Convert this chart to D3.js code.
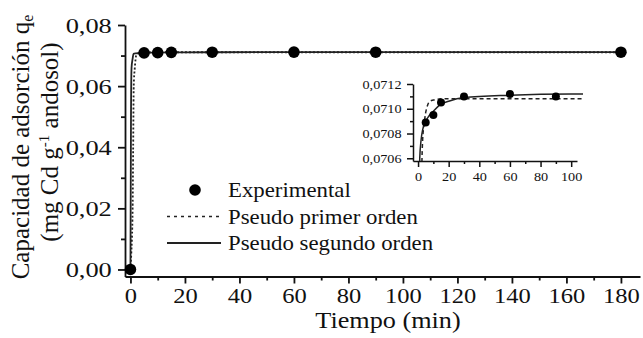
<!DOCTYPE html>
<html>
<head>
<meta charset="utf-8">
<script src="https://cdn.jsdelivr.net/npm/d3@7"></script>
<style>
    body { margin: 0; background: #fff; }
    text { font-family: "Liberation Serif", "Times New Roman", serif; fill: #111; }
</style>
</head>
<body>
<div id="chart"></div>
<script>
// experimental points
const tExp = [0, 5, 10, 15, 30, 60, 90, 180];
const qExp = [0, 0.07089, 0.07095, 0.07105, 0.0711, 0.07112, 0.0711, 0.0711];

// fitted curves
const tPrimer = [0, 0.3, 0.8, 1, 1.2, 1.6, 2.2, 3, 4, 5, 6, 7.6, 10, 15, 60, 180];
const qPrimer = [0, 0.005, 0.02, 0.04, 0.06, 0.066, 0.0703, 0.07075, 0.07088, 0.07097, 0.07102, 0.07106, 0.07107, 0.07108, 0.07108, 0.07108];
const tSegundo = [0, 0.2, 0.4, 0.8, 1.1, 2, 3, 5, 7, 10, 14, 20, 30, 60, 100, 180];
const qSegundo = [0, 0.05, 0.066, 0.069, 0.0706, 0.07075, 0.07083, 0.0709, 0.07094, 0.07098, 0.07103, 0.07106, 0.07109, 0.07111, 0.07112, 0.07112];

// ticks
const xTicks = [0, 20, 40, 60, 80, 100, 120, 140, 160, 180];
const xTickLabels = ["0", "20", "40", "60", "80", "100", "120", "140", "160", "180"];
const xMinor = [10, 30, 50, 70, 90, 110, 130, 150, 170];
const yTicks = [0, 0.02, 0.04, 0.06, 0.08];
const yTickLabels = ["0,00", "0,02", "0,04", "0,06", "0,08"];
const yMinor = [0.01, 0.03, 0.05, 0.07];
const insetXTicks = [0, 20, 40, 60, 80, 100];
const insetXTickLabels = ["0", "20", "40", "60", "80", "100"];
const insetXMinor = [10, 30, 50, 70, 90];
const insetYTicks = [0.0706, 0.0708, 0.0710, 0.0712];
const insetYTickLabels = ["0,0706", "0,0708", "0,0710", "0,0712"];
const insetYMinor = [0.0707, 0.0709, 0.0711];

const legendNames = ["Experimental", "Pseudo primer orden", "Pseudo segundo orden"];

function chart() {
    const W = 643, H = 338;
    const font = '"Liberation Serif", "Times New Roman", serif';
    const stretch = "scale(1.14,1)";   // the source picture is a bit wide
    const lineColor = "#222";

    let svg = d3.select("#chart").append("svg")
        .attr("width", W)
        .attr("height", H);

    //Main scales
    let x = d3.scaleLinear().domain([-2, 187]).range([125, 640]);
    let y = d3.scaleLinear().domain([-0.0023, 0.08]).range([276.5, 25]);

    //Inset scales
    let xi = d3.scaleLinear().domain([-3.3, 103.8]).range([413, 577]);
    let yi = d3.scaleLinear().domain([0.070578, 0.0712]).range([161, 84]);

    const primer = tPrimer.map((t, i) => ({t: t, q: qPrimer[i]}));
    const segundo = tSegundo.map((t, i) => ({t: t, q: qSegundo[i]}));
    const exp = tExp.map((t, i) => ({t: t, q: qExp[i]}));

    function drawAxes(g, sx, sy, o) {
        let ax = g.append("g").attr("transform", `translate(0,${sy.range()[0]})`);
        ax.call(d3.axisBottom(sx).tickValues(o.xt).tickSize(o.major).tickSizeOuter(0)
            .tickPadding(o.xpad).tickFormat((d, i) => o.xl[i]));
        ax.append("g").call(d3.axisBottom(sx).tickValues(o.xm).tickSize(o.minor).tickFormat(""))
            .call(g2 => g2.select(".domain").remove());

        let ay = g.append("g").attr("transform", `translate(${sx.range()[0]},0)`);
        ay.call(d3.axisLeft(sy).tickValues(o.yt).tickSize(o.major).tickSizeOuter(0)
            .tickPadding(o.ypad).tickFormat((d, i) => o.yl[i]));
        ay.append("g").call(d3.axisLeft(sy).tickValues(o.ym).tickSize(o.minor).tickFormat(""))
            .call(g2 => g2.select(".domain").remove());

        g.selectAll("g").attr("font-family", null).attr("font-size", null);
        ax.selectAll(".tick text").attr("font-size", o.fs).attr("fill", "#111").attr("transform", stretch);
        ay.selectAll(".tick text").attr("font-size", o.fsy).attr("fill", "#111").attr("transform", o.ystretch);
        g.selectAll(".domain, .tick line").attr("stroke", "#111").attr("stroke-width", o.sw);
    }

    function drawCurves(g, sx, sy, w, dash) {
        let line = d3.line().curve(d3.curveMonotoneX)
            .x(d => sx(d.t)).y(d => sy(d.q));
        g.append("path").datum(primer)
            .attr("fill", "none").attr("stroke", lineColor)
            .attr("stroke-width", w).attr("stroke-dasharray", dash)
            .attr("d", line);
        g.append("path").datum(segundo)
            .attr("fill", "none").attr("stroke", lineColor)
            .attr("stroke-width", w)
            .attr("d", line);
    }

    //Main plot
    let main = svg.append("g");
    drawAxes(main, x, y, {xt: xTicks, xl: xTickLabels, xm: xMinor, yt: yTicks, yl: yTickLabels, ym: yMinor,
        major: 7, minor: 4, xpad: 4, ypad: 4, fs: 21.5, fsy: 22, ystretch: "scale(1.2,1)", sw: 1.8});
    drawCurves(main, x, y, 1.8, "2,2");
    main.selectAll("circle").data(exp).join("circle")
        .attr("cx", d => x(d.t)).attr("cy", d => y(d.q))
        .attr("r", 5.8).attr("fill", "#000");

    //Inset
    svg.append("clipPath").attr("id", "insetClip")
        .append("rect").attr("x", 413).attr("y", 70).attr("width", 170).attr("height", 91);
    let inset = svg.append("g");
    drawAxes(inset, xi, yi, {xt: insetXTicks, xl: insetXTickLabels, xm: insetXMinor,
        yt: insetYTicks, yl: insetYTickLabels, ym: insetYMinor,
        major: 6, minor: 3, xpad: 5, ypad: 4, fs: 12.5, fsy: 12.5, ystretch: stretch, sw: 1.5});
    let insetPlot = inset.append("g").attr("clip-path", "url(#insetClip)");
    drawCurves(insetPlot, xi, yi, 1.5, "4,3");
    insetPlot.selectAll("circle").data(exp.filter(d => d.t > 0 && d.t <= 100)).join("circle")
        .attr("cx", d => xi(d.t)).attr("cy", d => yi(d.q))
        .attr("r", 4).attr("fill", "#000");

    //Axis titles
    svg.append("g").attr("transform", `translate(388,328) ${stretch}`)
        .append("text").attr("text-anchor", "middle").attr("font-size", 23)
        .text("Tiempo (min)");

    let yl1 = svg.append("text")
        .attr("transform", "translate(29,147) rotate(-90)")
        .attr("text-anchor", "middle").attr("font-size", 25);
    yl1.append("tspan").text("Capacidad de adsorción q");
    yl1.append("tspan").attr("font-size", 16).attr("dy", 4).text("e");

    let yl2 = svg.append("text")
        .attr("transform", "translate(58,142) rotate(-90)")
        .attr("text-anchor", "middle").attr("font-size", 25);
    yl2.append("tspan").text("(mg Cd g");
    yl2.append("tspan").attr("font-size", 15).attr("dy", -9).text("-1");
    yl2.append("tspan").attr("dy", 9).text(" andosol)");

    //Legend
    const legendY = [190, 216.5, 243];
    let legend = svg.append("g");
    legend.append("circle").attr("cx", 195).attr("cy", legendY[0]).attr("r", 5.8).attr("fill", "#000");
    legend.append("line").attr("x1", 167).attr("x2", 219).attr("y1", legendY[1]).attr("y2", legendY[1])
        .attr("stroke", lineColor).attr("stroke-width", 1.6).attr("stroke-dasharray", "3,4");
    legend.append("line").attr("x1", 167).attr("x2", 221).attr("y1", legendY[2]).attr("y2", legendY[2])
        .attr("stroke", lineColor).attr("stroke-width", 1.8);
    legendNames.forEach(function(name, i) {
        legend.append("g").attr("transform", `translate(228,${legendY[i] + 7}) ${stretch}`)
            .append("text").attr("font-size", 20).text(name);
    });

    svg.selectAll("text").style("font-family", font);
}
chart();
</script>
</body>
</html>
